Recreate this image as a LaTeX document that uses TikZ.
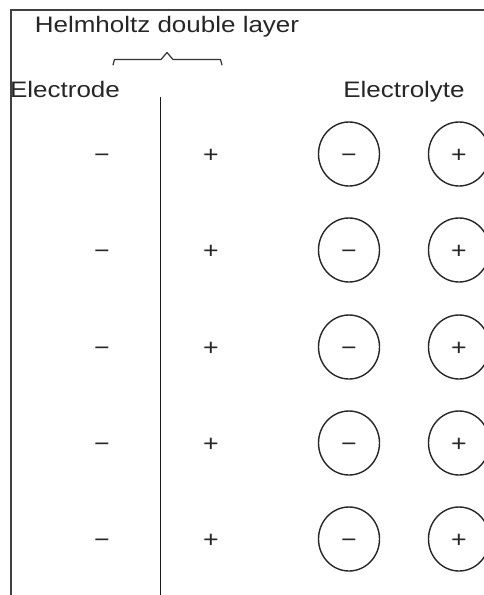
\documentclass[tikz,border=0pt]{standalone}
\usepackage{fontspec}
\setmainfont[FakeStretch=1.16]{Liberation Sans}
\usetikzlibrary{shapes.geometric}
\begin{document}
\begin{tikzpicture}[x=1pt,y=-1pt,
  lbl/.style={font=\fontsize{22.4}{26}\selectfont, text=black!85, inner sep=0pt, anchor=base},
  sign/.style={font=\fontsize{23}{26}\selectfont, text=black!85, inner sep=0pt, text height=16.1pt, text depth=0pt},
  ion/.style={ellipse, draw=black!85, line width=1.4pt, minimum width=61pt, minimum height=64pt, inner sep=0pt, font=\fontsize{23}{26}\selectfont, text=black!85, text height=16.1pt, text depth=0pt},
  frameline/.style={draw=black!75, line width=1.3pt},
  wall/.style={draw=black!90, line width=1.8pt},
  bracel/.style={draw=black!80, line width=1.2pt, line join=round, line cap=round}]
\useasboundingbox (0,0) rectangle (484,595);
\draw[frameline] (11,595) -- (11,10) -- (484,10);
\coordinate (wtop) at (160.5,97);
\coordinate (wbot) at (160.5,595);
\draw[wall] (wtop) -- (wbot);
\node[lbl] (title) at (167,32) {Helmholtz double layer};
\node[lbl] (electrode) at (65,97) {Electrode};
\node[lbl] (electrolyte) at (404,97) {Electrolyte};
\draw[bracel] (113,65) -- (114.5,59.5) -- (161,59.5) -- (167,52.5) -- (173,59.5) -- (220.5,59.5) -- (222,65);
\foreach \i/\y in {1/154,2/250,3/347,4/443,5/539} {
  \node[sign] (em\i) at (102,\y) {−};
  \node[sign] (ep\i) at (211,\y) {+};
  \node[ion] (an\i) at (349,\y) {−};
  \node[ion] (ca\i) at (459,\y) {+};
}
\end{tikzpicture}
\end{document}
